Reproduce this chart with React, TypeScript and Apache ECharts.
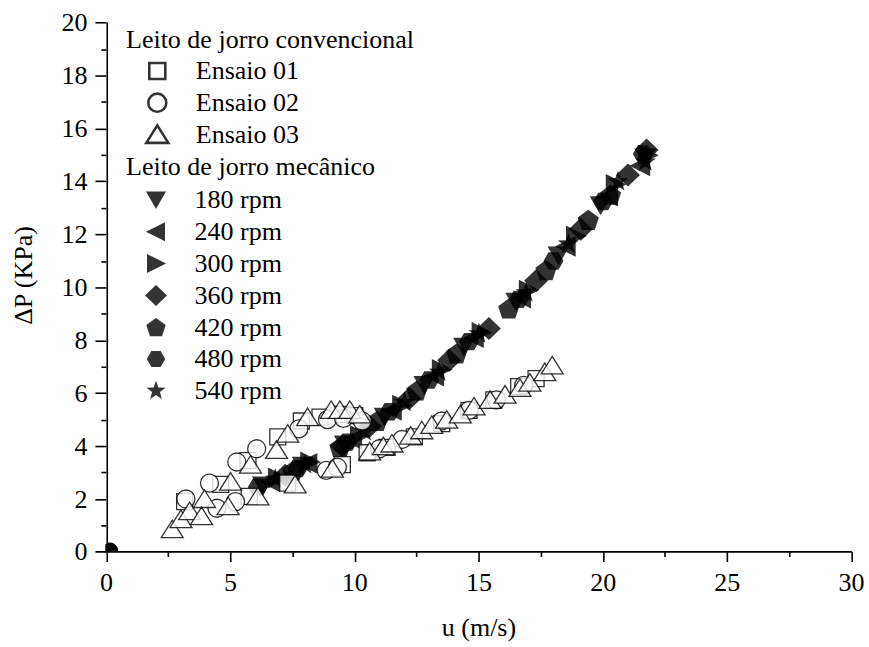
import React, { useEffect, useRef } from "react";
import * as echarts from "echarts";

// ---- Data ----
const conventionalNames = ["Ensaio 01", "Ensaio 02", "Ensaio 03"];
const mechanicalNames = ["180 rpm", "240 rpm", "300 rpm", "360 rpm", "420 rpm", "480 rpm", "540 rpm"];

const ensaio01 = [
  [3.15, 1.9], [4.6, 2.55], [5.7, 3.45], [6.9, 4.35], [7.85, 4.95], [8.6, 5.1], [9.5, 5.2], [10.0, 5.15],
  [5.75, 2.1], [7.3, 2.6], [9.5, 3.3], [10.5, 3.75], [11.3, 3.95], [12.4, 4.35], [13.5, 4.85],
  [14.6, 5.35], [15.6, 5.75], [16.6, 6.25], [17.3, 6.55],
];
const ensaio02 = [
  [3.2, 2.0], [4.15, 2.6], [5.25, 3.4], [6.05, 3.9], [7.75, 4.65], [8.9, 5.0], [9.55, 5.05], [10.3, 4.95],
  [4.45, 1.65], [5.2, 1.9], [8.85, 3.08], [9.3, 3.2], [11.0, 3.9], [11.9, 4.25], [13.5, 4.95],
  [14.6, 5.35], [15.7, 5.75], [16.8, 6.3],
];
const ensaio03 = [
  [2.65, 0.86], [3.0, 1.24], [3.35, 1.54], [3.95, 2.0], [5.0, 2.66], [5.8, 3.3], [6.85, 3.86], [7.3, 4.47],
  [8.1, 5.1], [9.05, 5.37], [9.4, 5.37], [9.8, 5.37], [10.2, 5.2],
  [3.83, 1.35], [4.9, 1.73], [6.1, 2.1], [7.6, 2.55], [9.1, 3.15], [10.6, 3.8], [11.15, 4.0], [11.5, 4.1],
  [12.25, 4.4], [12.7, 4.6], [13.1, 4.8], [13.7, 5.0], [14.25, 5.2], [14.8, 5.5], [15.45, 5.75],
  [16.05, 5.95], [16.65, 6.2], [17.05, 6.4], [17.65, 6.8], [17.95, 7.05],
];

const rpm180 = [[6.3, 2.5], [7.9, 3.25], [9.6, 4.05], [11.2, 5.1], [12.8, 6.3], [14.4, 7.75], [16.5, 9.45], [18.2, 11.2], [19.9, 13.1], [21.7, 14.9]];
const rpm240 = [[6.6, 2.65], [8.1, 3.35], [9.9, 4.25], [11.5, 5.35], [13.2, 6.65], [14.8, 8.1], [16.7, 9.6], [18.5, 11.55], [20.2, 13.45], [21.5, 14.6]];
const rpm300 = [[6.9, 2.8], [8.2, 3.4], [10.2, 4.4], [11.9, 5.55], [13.5, 6.9], [15.1, 8.3], [17.0, 9.9], [18.9, 11.95], [20.5, 13.9], [21.8, 15.0]];
const rpm360 = [[7.2, 2.9], [9.5, 4.0], [10.6, 4.75], [12.2, 5.8], [13.8, 7.25], [15.4, 8.45], [17.3, 10.25], [19.1, 12.2], [21.0, 14.25], [21.75, 15.2]];
const rpm420 = [[7.5, 3.05], [9.4, 3.95], [10.9, 4.95], [12.5, 6.1], [14.1, 7.5], [16.2, 9.2], [17.7, 10.65], [19.4, 12.55], [20.3, 13.5]];
const rpm480 = [[6.1, 2.45], [7.7, 3.15], [9.7, 4.15], [11.4, 5.3], [13.0, 6.5], [14.6, 7.95], [16.6, 9.55], [18.0, 11.0], [20.0, 13.25], [21.6, 15.05]];
const rpm540 = [[6.8, 2.75], [8.0, 3.3], [10.4, 4.55], [12.0, 5.65], [13.4, 6.8], [15.0, 8.25], [16.9, 9.8], [18.6, 11.65], [20.6, 14.0], [21.7, 14.75]];
const originPoints = [[0.15, 0.05]];

const conventionalData = [ensaio01, ensaio02, ensaio03];
const mechanicalData = [rpm180, rpm240, rpm300, rpm360, rpm420, rpm480, rpm540];

// ---- Symbols (all defined inside a 22x22 box so relative sizes stay as drawn) ----
const PAD = "M-11,-11M11,11";
const star = (() => {
  const pts: string[] = [];
  for (let i = 0; i < 10; i++) {
    const r = i % 2 === 0 ? 10 : 4.1;
    const a = -Math.PI / 2 + (i * Math.PI) / 5;
    pts.push(`${(r * Math.cos(a)).toFixed(2)},${(r * Math.sin(a)).toFixed(2)}`);
  }
  return "M" + pts.join("L") + "Z";
})();
const pentagon = (() => {
  const pts: string[] = [];
  for (let i = 0; i < 5; i++) {
    const a = -Math.PI / 2 + (i * 2 * Math.PI) / 5;
    pts.push(`${(10.2 * Math.cos(a)).toFixed(2)},${(10.2 * Math.sin(a) + 0.9).toFixed(2)}`);
  }
  return "M" + pts.join("L") + "Z";
})();
const hexagon = (() => {
  const pts: string[] = [];
  for (let i = 0; i < 6; i++) {
    const a = (i * Math.PI) / 3;
    pts.push(`${(9.2 * Math.cos(a)).toFixed(2)},${(9.2 * Math.sin(a)).toFixed(2)}`);
  }
  return "M" + pts.join("L") + "Z";
})();

const conventionalSymbols = [
  `path://${PAD}M-8,-8L8,-8L8,8L-8,8Z`,
  `path://${PAD}M9,0A9,9 0 1 1 -9,0A9,9 0 1 1 9,0Z`,
  `path://${PAD}M0,-9L11,8.5L-11,8.5Z`,
];
const mechanicalSymbols = [
  `path://${PAD}M-10,-8.5L10,-8.5L0,9Z`,
  `path://${PAD}M-10,0L9,-9.5L9,9.5Z`,
  `path://${PAD}M10,0L-9,-9.5L-9,9.5Z`,
  `path://${PAD}M0,-11L11.5,0L0,11L-11.5,0Z`,
  `path://${PAD}${pentagon}`,
  `path://${PAD}${hexagon}`,
  `path://${PAD}${star}`,
];

const FONT = "Liberation Serif";
// The chart is laid out at 1/1.3 scale (20px text) and enlarged by CSS to 869x647.
const SCALE = 1.3;
const k = (v: number) => v / SCALE;

export default function App() {
  const ref = useRef<HTMLDivElement>(null);

  useEffect(() => {
    if (!ref.current) return;
    const chart = echarts.init(ref.current, null, { renderer: "svg" });

    const mechSeries = mechanicalNames.map((name, i) => ({
      name,
      type: "scatter",
      data: mechanicalData[i],
      symbol: mechanicalSymbols[i],
      symbolSize: k(24),
      symbolKeepAspect: true,
      itemStyle: { color: "#000", borderWidth: 0 },
      emphasis: { disabled: true },
    }));
    const convSeries = conventionalNames.map((name, i) => ({
      name,
      type: "scatter",
      data: conventionalData[i],
      symbol: conventionalSymbols[i],
      symbolSize: k(22),
      symbolKeepAspect: true,
      itemStyle: { color: "#fff", borderColor: "#000", borderWidth: k(1.3) },
      emphasis: { disabled: true },
    }));

    const textStyle = { fontFamily: FONT, fontSize: 20, color: "#000" };
    const lw = k(1.6);

    chart.setOption({
      animation: false,
      backgroundColor: "#fff",
      textStyle: { fontFamily: FONT },
      grid: { left: k(104), right: k(16), top: k(23), bottom: k(91), containLabel: false },
      xAxis: {
        type: "value",
        min: 0,
        max: 30,
        interval: 5,
        name: "u (m/s)",
        nameLocation: "middle",
        nameGap: k(63),
        nameTextStyle: textStyle,
        axisLine: { show: true, onZero: false, lineStyle: { color: "#000", width: lw } },
        axisTick: { show: true, inside: false, length: k(10), lineStyle: { color: "#000", width: lw } },
        minorTick: { show: true, splitNumber: 2, length: k(5), lineStyle: { color: "#000", width: lw } },
        splitLine: { show: false },
        axisLabel: { ...textStyle, margin: k(18) },
      },
      yAxis: {
        type: "value",
        min: 0,
        max: 20,
        interval: 2,
        name: "ΔP (KPa)",
        nameLocation: "middle",
        nameGap: k(70),
        nameTextStyle: { ...textStyle, padding: [0, 0, 0, k(24)] },
        axisLine: { show: true, onZero: false, lineStyle: { color: "#000", width: lw } },
        axisTick: { show: true, inside: false, length: k(11), lineStyle: { color: "#000", width: lw } },
        minorTick: { show: true, splitNumber: 2, length: k(5), lineStyle: { color: "#000", width: lw } },
        splitLine: { show: false },
        axisLabel: { ...textStyle, margin: k(19) },
      },
      legend: [
        {
          orient: "vertical",
          left: k(145),
          top: k(58),
          padding: 0,
          itemGap: k(5.7),
          itemWidth: k(22),
          itemHeight: k(22),
          selectedMode: false,
          data: conventionalNames.map((n, i) => ({ name: n, icon: conventionalSymbols[i] })),
          textStyle: { ...textStyle, lineHeight: 20, padding: [0, 0, 0, k(21)] },
        },
        {
          orient: "vertical",
          left: k(145),
          top: k(187),
          padding: 0,
          itemGap: k(5.8),
          itemWidth: k(22),
          itemHeight: k(22),
          selectedMode: false,
          data: mechanicalNames.map((n, i) => ({ name: n, icon: mechanicalSymbols[i] })),
          textStyle: { ...textStyle, lineHeight: 20, padding: [0, 0, 0, k(21)] },
        },
      ],
      graphic: [
        {
          type: "text",
          left: k(126),
          top: k(26),
          style: { text: "Leito de jorro convencional", fontFamily: FONT, fontSize: 20, fill: "#000" },
        },
        {
          type: "text",
          left: k(126),
          top: k(154),
          style: { text: "Leito de jorro mecânico", fontFamily: FONT, fontSize: 20, fill: "#000" },
        },
      ],
      series: [
        ...mechSeries,
        {
          name: "origem",
          type: "custom",
          clip: true,
          data: originPoints,
          renderItem: (params: any, api: any) => {
            const p = api.coord([api.value(0), api.value(1)]);
            return { type: "circle", shape: { cx: p[0], cy: p[1], r: k(8) }, style: { fill: "#000" } };
          },
          silent: true,
        },
        ...convSeries,
      ],
    });

    return () => chart.dispose();
  }, []);

  return (
    <div
      ref={ref}
      style={{
        position: "absolute",
        left: 0,
        top: 0,
        width: 869 / SCALE,
        height: 647 / SCALE,
        transform: `scale(${SCALE})`,
        transformOrigin: "0 0",
      }}
    />
  );
}
